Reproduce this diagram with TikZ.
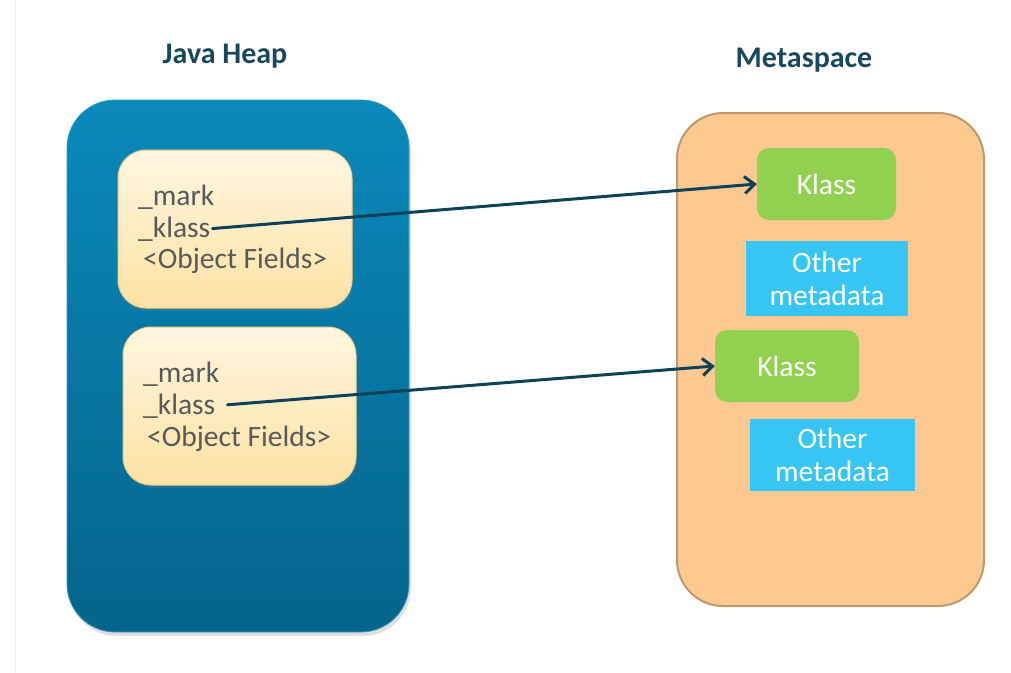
\documentclass[tikz,border=0pt]{standalone}
\usepackage{fontspec}
\setmainfont{Carlito}
\usetikzlibrary{arrows.meta,shadows}
\definecolor{heaptop}{HTML}{0A89BB}
\definecolor{heapbot}{HTML}{05648B}
\definecolor{objtop}{HTML}{FFF6E1}
\definecolor{objbot}{HTML}{FDE2A3}
\definecolor{objline}{HTML}{F2CC84}
\definecolor{metafill}{HTML}{FDC991}
\definecolor{metaline}{HTML}{BC9A6C}
\definecolor{klassgreen}{HTML}{92D050}
\definecolor{otherblue}{HTML}{37C6F4}
\definecolor{ptrcol}{HTML}{0F4259}
\definecolor{titlecol}{HTML}{174860}
\definecolor{fieldcol}{HTML}{595959}
\begin{document}
\begin{tikzpicture}[x=1pt,y=-1pt,>={Straight Barb[length=10pt,width=17pt]}, line join=round, line cap=round,
		font=\fontsize{29.5}{33}\selectfont,
		heap/.style={rounded corners=48pt, top color=heaptop, bottom color=heapbot, draw=heaptop!85!white, line width=0.8pt, drop shadow={opacity=0.25, shadow xshift=2pt, shadow yshift=-4pt}},
		obj/.style={rounded corners=28pt, top color=objtop, bottom color=objbot, draw=objline, line width=1pt, drop shadow={opacity=0.2, shadow xshift=1pt, shadow yshift=-3pt}},
		meta/.style={rounded corners=46pt, fill=metafill, draw=metaline, line width=2pt},
		klass/.style={rounded corners=12pt, fill=klassgreen, text=white},
		other/.style={fill=otherblue, text=white, align=center},
		field/.style={anchor=base west, inner sep=0pt, text=fieldcol},
		title/.style={anchor=base, font=\fontsize{30}{36}\selectfont\bfseries, text=titlecol},
		ptr/.style={->, draw=ptrcol, line width=3pt}]
		\useasboundingbox (0,0) rectangle (1011,672);
		\draw[gray!15, line width=1pt] (15,0)--(15,672);
		% titles
		\node[title] (heaptitle) at (225,63) {Java Heap};
		\node[title] (metatitle) at (804,67) {Metaspace};
		% java heap with two objects
		\node[heap, minimum width=342pt, minimum height=532pt] (heap) at (238,366) {};
		\node[obj, minimum width=234pt, minimum height=158pt] (obja) at (235,229) {};
		\node[obj, minimum width=233pt, minimum height=158pt] (objb) at (239.5,406) {};
		\node[field] (marka) at (138,205) {\_mark};
		\node[field] (klassa) at (138,237) {\_klass};
		\node[field] (fieldsa) at (143,268) {<Object Fields>};
		\node[field] (markb) at (143,382) {\_mark};
		\node[field] (klassb) at (143,414) {\_klass};
		\node[field] (fieldsb) at (147,446) {<Object Fields>};
		% metaspace
		\node[meta, minimum width=307pt, minimum height=493pt] (meta) at (830.5,359.5) {};
		\node[klass, minimum width=139pt, minimum height=72pt] (ka) at (826.5,184) {Klass};
		\node[other, minimum width=162pt, minimum height=75pt, inner sep=0pt] (oa) at (827,278.5) {Other\\metadata};
		\node[klass, minimum width=144pt, minimum height=72pt] (kb) at (787,366) {Klass};
		\node[other, minimum width=165pt, minimum height=72pt, inner sep=0pt] (ob) at (832.5,455) {Other\\metadata};
		% pointers
		\draw[ptr, shorten <=2pt] (klassa.east)--(ka.west);
		\draw[ptr, shorten <=12pt] (klassb.east)--(kb.west);
	\end{tikzpicture}
\end{document}
